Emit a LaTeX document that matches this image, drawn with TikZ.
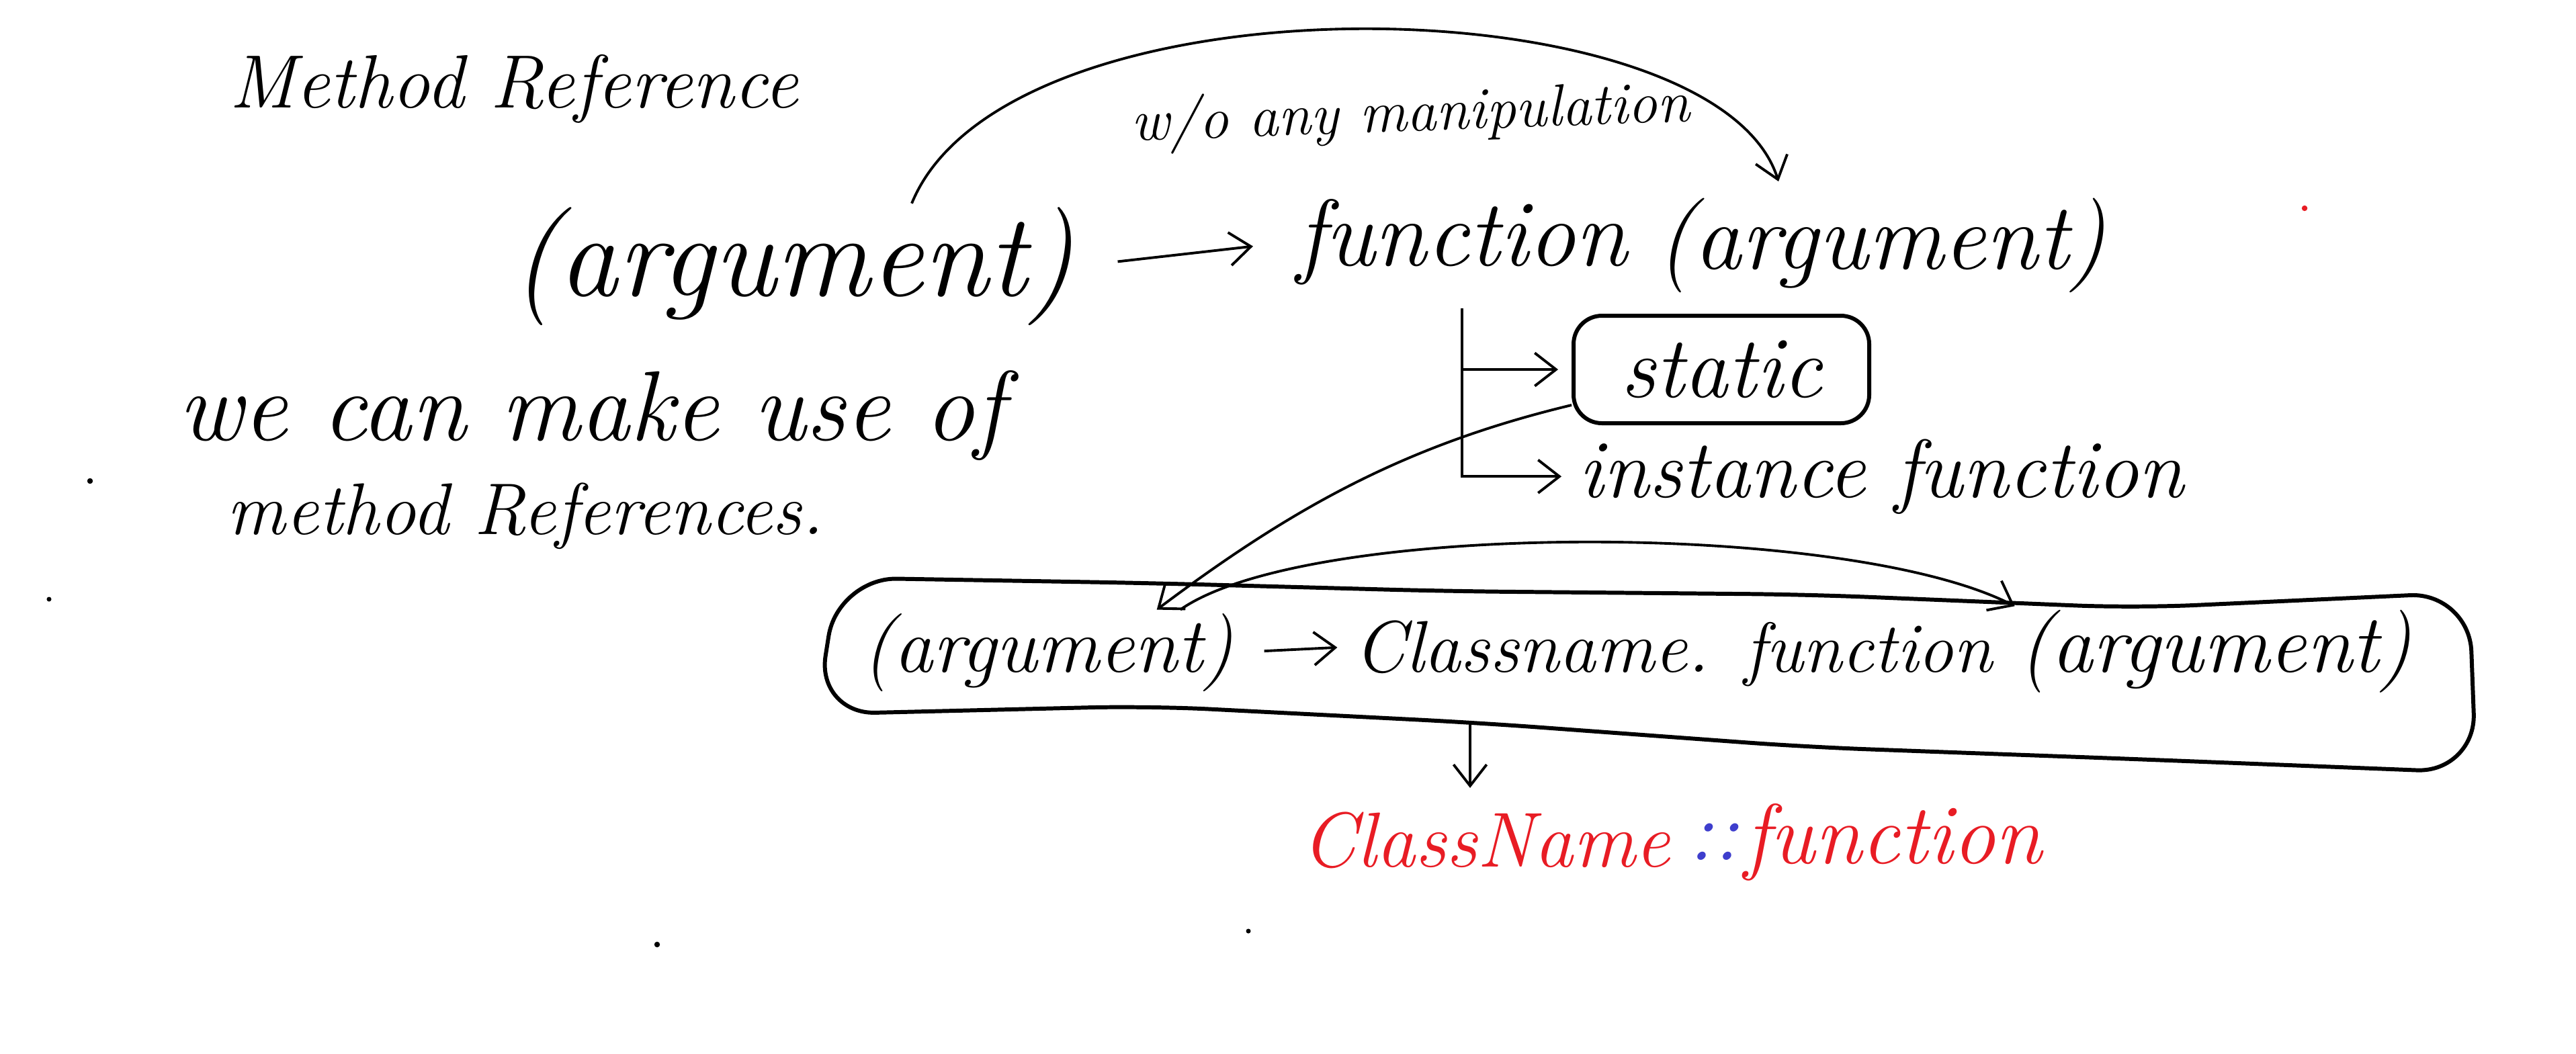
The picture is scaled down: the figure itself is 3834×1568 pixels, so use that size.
\documentclass[tikz,border=0pt]{standalone}
\usepackage{tikz}
\usetikzlibrary{positioning, arrows.meta, calc}
\definecolor{penred}{RGB}{232,28,36}
\definecolor{penblue}{RGB}{62,62,205}
\newcommand{\pensize}[1]{\fontsize{#1}{#1}\selectfont}

\begin{document}
\begin{tikzpicture}[x=0.1mm, y=-0.1mm, line width=1.1pt, >={Straight Barb[length=9pt,width=14pt]},
	hand/.style={inner sep=1pt, anchor=base},
	framed/.style={draw, line width=1.7pt, rounded corners=12pt, minimum width=44mm, minimum height=16mm},
	speck/.style={fill}]
	\useasboundingbox (0,0) rectangle (3834,1568);
	% top part
	\node[hand, font=\itshape\pensize{32}] (title) at (765,160) {Method Reference};
	\node[hand, font=\itshape\pensize{50}] (arg1) at (1180,440) {(argument)};
	\node[hand, font=\itshape\pensize{40}] (fn) at (2176,395) {function};
	\node[hand, font=\itshape\pensize{40}] (fnarg) at (2800,400) {(argument)};
	\node[hand, font=\itshape\pensize{25}, rotate=2] (manip) at (2100,195) {w/o any manipulation};
	\node[framed, font=\itshape\pensize{37}] (stat) at (2562,550) {static};
	\node[hand, font=\itshape\pensize{35}] (inst) at (2800,740) {instance function};
	\node[hand, font=\itshape\pensize{42}] (we) at (880,655) {we can make use of};
	\node[hand, font=\itshape\pensize{31}] (meth) at (782,795) {method References.};
	% boxed line
	\node[hand, font=\itshape\pensize{33}] (boxarg) at (1560,1000) {(argument)};
	\node[hand, font=\itshape\pensize{31}] (cls) at (2280,1000) {Classname.};
	\node[hand, font=\itshape\pensize{30}] (boxfn) at (2781,1000) {function};
	\node[hand, font=\itshape\pensize{35}] (boxfnarg) at (3297,1000) {(argument)};
	\draw[line width=1.7pt, rounded corners=25pt] (1247,860) -- (1711,868) -- (2152,880) -- (2690,885) -- (3178,905) -- (3675,882) -- (3685,1150) -- (3178,1130) -- (2690,1112) -- (2200,1076) -- (1711,1051) -- (1215,1063) -- cycle;
	\coordinate (boxbot) at (2188,1076);
	% red result
	\node[hand, font=\itshape\pensize{33}, text=penred] (cn) at (2212,1290) {ClassName};
	\node[hand, font=\itshape\pensize{36}, text=penblue] (dots) at (2550,1280) {::};
	\node[hand, font=\itshape\pensize{36}, text=penred] (cfn) at (2818,1285) {function};
	% connectors
	\draw[->, shorten <=6mm, shorten >=6mm] (arg1.east) -- (fn.west);
	\draw[->, shorten >=2mm] ([xshift=17.7mm]arg1.north) .. controls +(143,-350) and +(-100,-317) .. ([xshift=-14.7mm]fnarg.north);
	\draw[->, shorten >=2mm] ([yshift=-3mm]fn.south) |- (stat.west);
	\draw[->, shorten >=2mm] ([yshift=-3mm]fn.south) |- (inst.west);
	\draw[->] ([yshift=3mm]stat.south west) .. controls +(-250,60) and +(200,-150) .. ([xshift=-12mm]boxarg.north east);
	\draw[->] ([xshift=-8.5mm]boxarg.north east) .. controls +(190,-133) and +(-250,-128) .. (boxfnarg.north west);
	\draw[->, shorten <=4mm, shorten >=2mm] (boxarg.east) -- (cls.west);
	\draw[->, shorten >=3mm] (boxbot) -- (boxbot |- cn.north);
	% specks
	\fill[speck] (134,716) circle (1.2pt);
	\fill[speck] (73,892) circle (1pt);
	\fill[speck] (978,1406) circle (1.2pt);
	\fill[speck] (1858,1386) circle (1pt);
	\fill[speck, penred] (3430,310) circle (1.2pt);
\end{tikzpicture}
\end{document}
